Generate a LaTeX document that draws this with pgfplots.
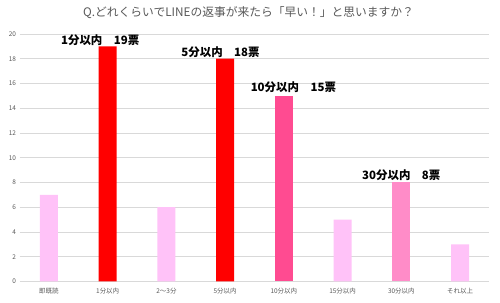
\documentclass[border=0pt]{standalone}
\usepackage{fontspec}
\setmainfont{Noto Sans CJK JP}
\usepackage{pgfplots}
\pgfplotsset{compat=1.18}
\definecolor{lpink}{HTML}{FFC2F8}
\definecolor{bred}{HTML}{FF0000}
\definecolor{hpink}{HTML}{FF4B91}
\definecolor{mpink}{HTML}{FF8CC8}
\definecolor{gridgray}{HTML}{D9D9D9}
\definecolor{tickgray}{HTML}{595959}
\begin{document}
\begin{tikzpicture}[x=1bp,y=1bp]
\useasboundingbox (0,0) rectangle (500,302);
\fill[white] (0,0) rectangle (500,302);
\node[text=tickgray, font=\fontsize{11.8}{13}\selectfont] at (248.5,289) {Q.どれくらいでLINEの返事が来たら「早い！」と思いますか？};
\begin{axis}[
  at={(19.6bp,20.6bp)}, anchor=south west,
  scale only axis, width=469.8bp, height=247.4bp,
  xmin=-0.5, xmax=7.5, ymin=0, ymax=20,
  ytick={0,2,...,20},
  xtick={0,...,7},
  xticklabels={即既読,1分以内,2～3分,5分以内,10分以内,15分以内,30分以内,それ以上},
  ymajorgrids, grid style={color=gridgray, line width=0.7bp},
  axis line style={draw=none},
  major tick length=0pt,
  /pgf/number format/assume math mode=true,
  tick label style={text=tickgray, font=\fontsize{6.5}{7}\selectfont},
  xticklabel style={yshift=-3bp},
  clip=false,
]
\addplot[ybar, bar width=18bp, bar shift=0pt, fill=lpink, draw=none] coordinates {(0,7) (2,6) (5,5) (7,3)};
\addplot[ybar, bar width=18bp, bar shift=0pt, fill=bred, draw=none] coordinates {(1,19) (3,18)};
\addplot[ybar, bar width=18bp, bar shift=0pt, fill=hpink, draw=none] coordinates {(4,15)};
\addplot[ybar, bar width=18bp, bar shift=0pt, fill=mpink, draw=none] coordinates {(6,8)};
\node[font=\bfseries\fontsize{11.5}{12}\selectfont, xshift=-7.5bp, yshift=6.5bp] at (axis cs:1,19) {1分以内　19票};
\node[font=\bfseries\fontsize{11.5}{12}\selectfont, xshift=-4.6bp, yshift=6.7bp] at (axis cs:3,18) {5分以内　18票};
\node[font=\bfseries\fontsize{11.5}{12}\selectfont, xshift=9.5bp, yshift=8.5bp] at (axis cs:4,15) {10分以内　15票};
\node[font=\bfseries\fontsize{11.5}{12}\selectfont, xshift=0bp, yshift=7.4bp] at (axis cs:6,8) {30分以内　8票};
\end{axis}
\end{tikzpicture}
\end{document}
